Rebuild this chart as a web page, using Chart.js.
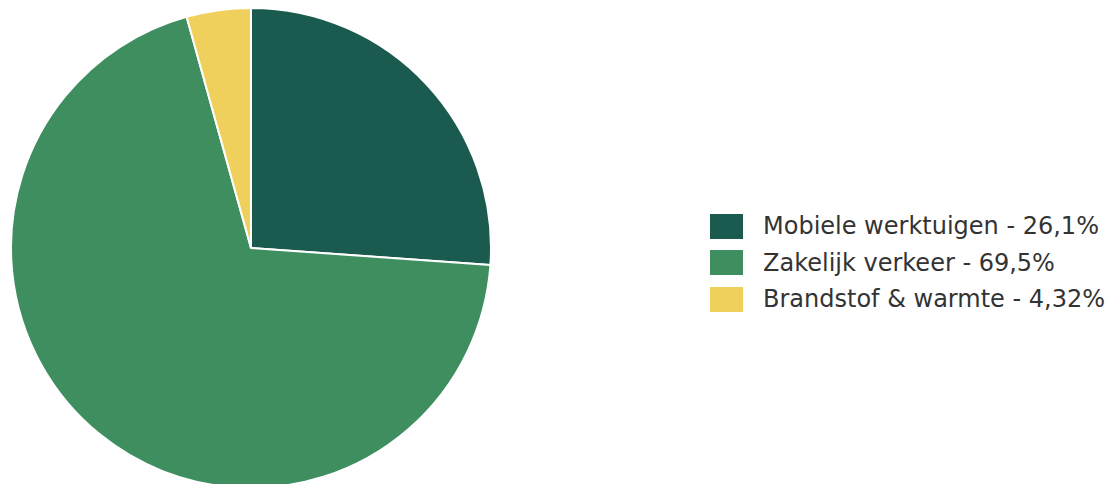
<!DOCTYPE html>
<html>
<head>
<meta charset="utf-8">
<script src="https://cdn.jsdelivr.net/npm/chart.js@4"></script>
<style>
  html, body { margin: 0; padding: 0; background: #fff; overflow: hidden; }
  body { width: 1115px; height: 484px; position: relative; font-family: 'DejaVu Sans', sans-serif; }
  #pieWrap { position: absolute; left: 10px; top: 7px; width: 482px; height: 482px; }
  #legend { position: absolute; left: 710px; top: 208px; }
  .item { display: flex; align-items: center; height: 36.5px; }
  .box { width: 33px; height: 25px; margin-right: 20px; }
  .label { font-size: 24px; color: #333; white-space: nowrap; }
</style>
</head>
<body>
<div id="pieWrap"><canvas id="pie"></canvas></div>
<div id="legend"></div>
<script>
// Data
const categories = ['Mobiele werktuigen', 'Zakelijk verkeer', 'Brandstof & warmte'];
const shares = [26.1, 69.5, 4.32];
const shareLabels = ['26,1%', '69,5%', '4,32%'];
const colors = ['#1B5A4F', '#3F8E60', '#F0D05C'];

const ctx = document.getElementById('pie').getContext('2d');
new Chart(ctx, {
    type: 'pie',
    data: {
        labels: categories,
        datasets: [{
            data: shares,
            backgroundColor: colors,
            borderColor: '#ffffff',
            borderWidth: 2
        }]
    },
    options: {
        responsive: true,
        maintainAspectRatio: false,
        animation: false,
        layout: { padding: 0 },
        plugins: {
            legend: { display: false },
            tooltip: { enabled: false }
        }
    }
});

// Legend
const legendEl = document.getElementById('legend');
categories.forEach((name, i) => {
    const item = document.createElement('div');
    item.className = 'item';
    item.innerHTML = `<div class="box" style="background:${colors[i]}"></div><span class="label">${name.replace('&', '&amp;')} - ${shareLabels[i]}</span>`;
    legendEl.appendChild(item);
});
</script>
</body>
</html>
